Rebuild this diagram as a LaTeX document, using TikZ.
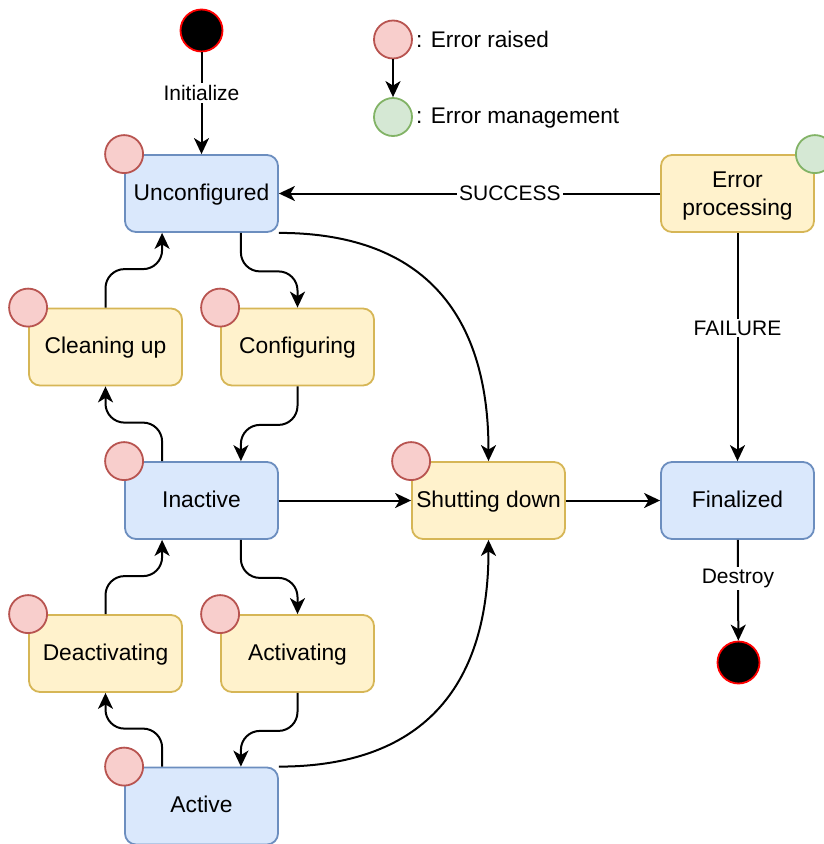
\documentclass[tikz,border=0pt]{standalone}
\usepackage{fontspec}
\setmainfont{Liberation Sans}
\usetikzlibrary{arrows.meta,calc}
\definecolor{bfill}{HTML}{DAE8FC}
\definecolor{bdraw}{HTML}{6C8EBF}
\definecolor{yfill}{HTML}{FFF2CC}
\definecolor{ydraw}{HTML}{D6B656}
\definecolor{rfill}{HTML}{F8CECC}
\definecolor{rdraw}{HTML}{B85450}
\definecolor{gfill}{HTML}{D5E8D4}
\definecolor{gdraw}{HTML}{82B366}
\begin{document}
\begin{tikzpicture}[x=1pt,y=-1pt,
  statebase/.style={rectangle, rounded corners=11pt, minimum width=153pt, minimum height=77pt,
    line width=1.8pt, inner sep=0pt, font=\fontsize{22.8}{28}\selectfont},
  oneline/.style={text height=17pt, text depth=4pt},
  bluebox/.style={statebase, oneline, fill=bfill, draw=bdraw},
  yellowbox/.style={statebase, oneline, fill=yfill, draw=ydraw},
  yellowtwo/.style={statebase, align=center, text depth=0pt, fill=yfill, draw=ydraw},
  errdot/.style={circle, minimum size=38pt, inner sep=0pt, fill=rfill, draw=rdraw, line width=1.8pt},
  mgmtdot/.style={circle, minimum size=38pt, inner sep=0pt, fill=gfill, draw=gdraw, line width=1.8pt},
  term/.style={circle, minimum size=42pt, inner sep=0pt, fill=black, draw=red, line width=1.8pt},
  arr/.style={-{Stealth[length=16pt,width=15pt,inset=4.5pt]}, line width=2pt},
  lbl/.style={fill=white, inner sep=2pt, font=\fontsize{21}{25}\selectfont},
  leg/.style={anchor=base west, inner sep=0pt, font=\fontsize{22.6}{26}\selectfont}
]
\useasboundingbox (0,0) rectangle (824,844);

% states
\node[term] (start) at (201.5,30.5) {};
\node[bluebox] (unconf) at (201.5,193.5) {Unconfigured};
\node[yellowbox] (clean) at (105.5,347) {Cleaning up};
\node[yellowbox] (config) at (297.5,347) {Configuring};
\node[bluebox] (inact) at (201.5,500.5) {Inactive};
\node[yellowbox] (deact) at (105.5,653.5) {Deactivating};
\node[yellowbox] (activ) at (297.5,653.5) {Activating};
\node[bluebox] (active) at (201.5,806) {Active};
\node[yellowbox] (shut) at (488.5,500.5) {Shutting down};
\node[bluebox] (final) at (737.5,500.5) {Finalized};
\node[yellowtwo] (errproc) at (737.5,193.5) {Error\\processing};
\node[term] (endn) at (738.5,662.5) {};

% error markers
\node[errdot] (eunconf) at (unconf.north west) {};
\node[errdot] (eclean) at (clean.north west) {};
\node[errdot] (econfig) at (config.north west) {};
\node[errdot] (einact) at (inact.north west) {};
\node[errdot] (edeact) at (deact.north west) {};
\node[errdot] (eactiv) at (activ.north west) {};
\node[errdot] (eactive) at (active.north west) {};
\node[errdot] (eshut) at (shut.north west) {};
\node[mgmtdot] (gerr) at (errproc.north east) {};

% legend
\node[errdot] (lr) at (393,39.5) {};
\node[mgmtdot] (lg) at (393,117) {};
\draw[arr] (lr) -- (lg);
\node[leg] (lt1) at (416,47) {: Error raised};
\node[leg] (lt2) at (416,123) {: Error management};

% straight transitions
\draw[arr] (start) -- node[lbl, pos=0.4] {Initialize} (unconf);
\draw[arr] (errproc) -- node[lbl, pos=0.394] {SUCCESS} (unconf);
\draw[arr] (errproc) -- node[lbl, pos=0.417] {FAILURE} (final);
\draw[arr] (final) -- node[lbl, pos=0.38] {Destroy} (endn);
\draw[arr] (inact) -- (shut);
\draw[arr] (shut) -- (final);

% orthogonal curved transitions
\draw[arr, rounded corners=19pt] ([xshift=-38pt]unconf.south east) -- ++(0,38.5) -| (config.north);
\draw[arr, rounded corners=19pt] (clean.north) -- ++(0,-38.5) -| ([xshift=38pt]unconf.south west);
\draw[arr, rounded corners=19pt] ([xshift=38pt]inact.north west) -- ++(0,-38.5) -| (clean.south);
\draw[arr, rounded corners=19pt] (config.south) -- ++(0,38.5) -| ([xshift=-38pt]inact.north east);
\draw[arr, rounded corners=19pt] ([xshift=-38pt]inact.south east) -- ++(0,38) -| (activ.north);
\draw[arr, rounded corners=19pt] (activ.south) -- ++(0,38) -| ([xshift=-38pt]active.north east);
\draw[arr, rounded corners=19pt] ([xshift=38pt]active.north west) -- ++(0,-38) -| (deact.south);
\draw[arr, rounded corners=19pt] (deact.north) -- ++(0,-38) -| ([xshift=38pt]inact.south west);

% long curves to shutting down
\coordinate (c1) at (unconf.south east -| shut.north);
\draw[arr] (unconf.south east) .. controls ($(unconf.south east)!0.6667!(c1)$) and ($(shut.north)!0.6667!(c1)$) .. (shut.north);
\coordinate (c2) at (active.north east -| shut.south);
\draw[arr] (active.north east) .. controls ($(active.north east)!0.6667!(c2)$) and ($(shut.south)!0.6667!(c2)$) .. (shut.south);
\end{tikzpicture}
\end{document}
